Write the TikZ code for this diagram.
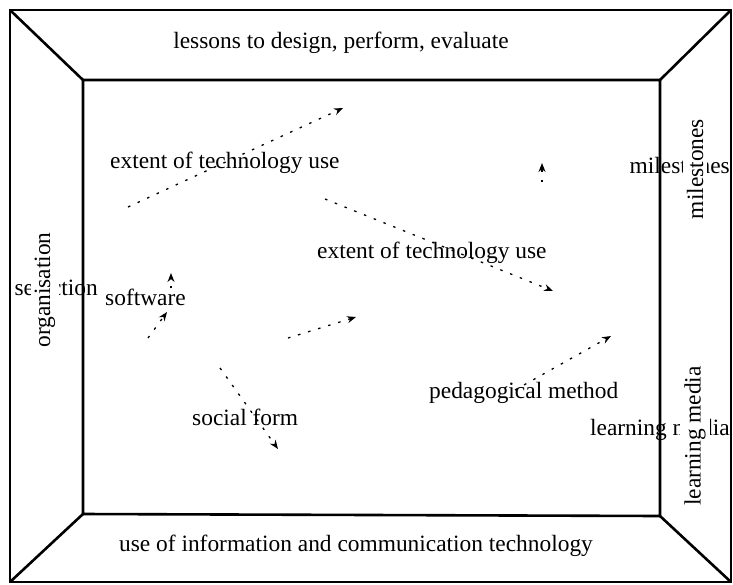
\documentclass[tikz,border=0pt]{standalone}
\usepackage{fontspec}
\setmainfont{Liberation Serif}
\usetikzlibrary{calc,positioning,arrows.meta}

\begin{document}
\begin{tikzpicture}[x=1pt,y=-1pt,
		frame/.style={line width=2.6pt,line join=miter},
		caption/.style={font=\fontsize{23.4}{28}\selectfont,inner sep=0pt},
		side/.style={caption,rotate=90,fill=white,inner sep=4pt},
		link/.style={line width=1.3pt,dash pattern=on 2.5pt off 8pt,
			-{Stealth[length=9pt,width=7pt]}}]
				\useasboundingbox (0, 0) rectangle (733, 584);
				% Points
				\coordinate (OTL) at (10, 10);
				\coordinate (OTR) at (731, 10);
				\coordinate (OBR) at (731, 582);
				\coordinate (OBL) at (10, 582);

				\coordinate (ITL) at (83, 80);
				\coordinate (ITR) at (660, 80);
				\coordinate (IBR) at (660, 516);
				\coordinate (IBL) at (83, 514);

				% Frame
				\draw[frame]
				(OTL) --
				(OTR) --
				(OBR) --
				(OBL) --
				cycle;
				\draw[frame]
				(ITL) --
				(ITR) --
				(IBR) --
				(IBL) --
				cycle;
				\draw[frame]
					(OTL) -- (ITL)
					(OTR) -- (ITR)
					(OBR) -- (IBR)
					(OBL) -- (IBL)
					;

				% Captions of the frame
				\node[caption] (lessons) at (341, 43) {lessons to design, perform, evaluate};
				\node[caption] (ict) at (356, 546) {use of information and communication technology};

				% Inner labels
				\node[caption,anchor=west] (useup) at (110, 163) {extent of technology use};
				\node[caption,anchor=west] (uselow) at (317, 253) {extent of technology use};
				\node[caption,anchor=east] (miles) at (730, 165) {milestones};
				\node[caption,anchor=east] (select) at (98, 287) {selection};
				\node[caption,anchor=west] (soft) at (105, 297) {software};
				\node[caption,anchor=west] (social) at (192, 417) {social form};
				\node[caption,anchor=west] (method) at (429, 393) {pedagogical method};
				\node[caption,anchor=east] (media) at (730, 430) {learning media};

				% Side captions
				\node[side] (orga) at (45, 290) {organisation};
				\node[side] (milesv) at (695, 169) {milestones};
				\node[side] (mediav) at (695, 436) {learning media};

				% Arrow ends
				\coordinate (a1) at (128, 207);
				\coordinate (a2) at (343, 108);
				\coordinate (b1) at (325, 199);
				\coordinate (b2) at (553, 291);
				\coordinate (c1) at (148, 338);
				\coordinate (c2) at (167, 312);
				\coordinate (c3) at (171, 273);
				\coordinate (d1) at (288, 338);
				\coordinate (d2) at (356, 317);
				\coordinate (e1) at (220, 368);
				\coordinate (e2) at (278, 449);
				\coordinate (f1) at (515, 390);
				\coordinate (f2) at (611, 336);
				\coordinate (g1) at (542, 182);
				\coordinate (g2) at (542, 163);

				% Arrows
				\draw[link] (a1) -- (a2);
				\draw[link] (b1) -- (b2);
				\draw[link] (c1) -- (c2);
				\draw[link] (soft.north -| c3) -- (c3);
				\draw[link] (d1) -- (d2);
				\draw[link] (e1) -- (e2);
				\draw[link] (f1) -- (f2);
				\draw[link] (g1) -- (g2);
			\end{tikzpicture}
\end{document}
